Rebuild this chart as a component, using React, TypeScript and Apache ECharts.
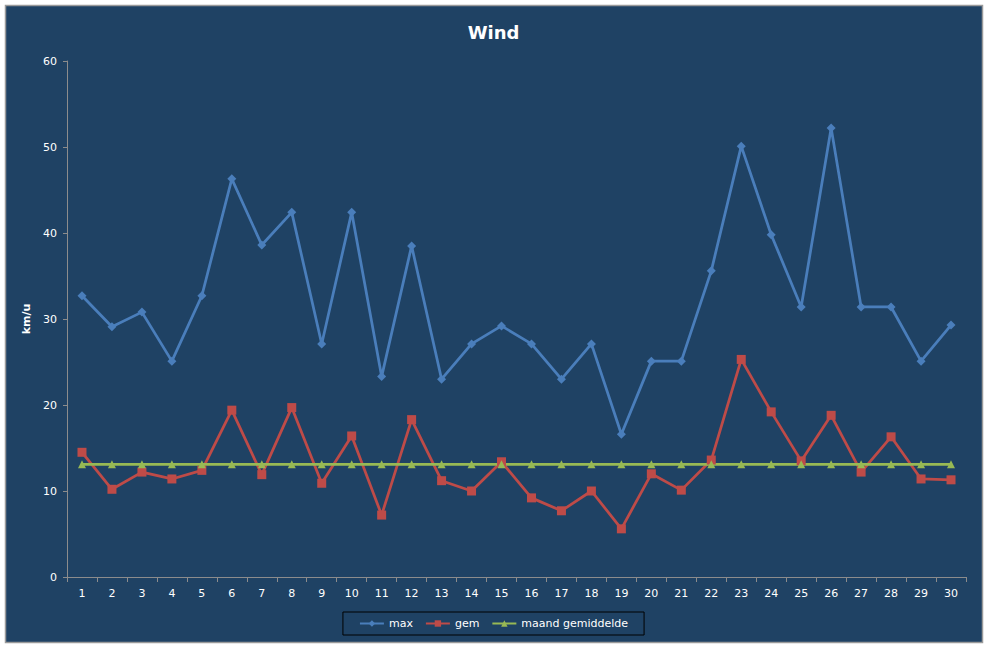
import React, { useEffect, useRef } from 'react';
import * as echarts from 'echarts';

const days = Array.from({ length: 30 }, (_, i) => String(i + 1));

const maxWind = [
  32.7, 29.1, 30.8, 25.1, 32.7, 46.3, 38.6, 42.4, 27.1, 42.4,
  23.3, 38.5, 23.0, 27.1, 29.2, 27.1, 23.0, 27.1, 16.6, 25.1,
  25.1, 35.6, 50.1, 39.8, 31.4, 52.2, 31.4, 31.4, 25.1, 29.3,
];

const gemWind = [
  14.5, 10.2, 12.2, 11.4, 12.4, 19.4, 11.9, 19.7, 10.9, 16.4,
  7.2, 18.3, 11.2, 10.0, 13.4, 9.2, 7.7, 10.0, 5.6, 12.0,
  10.1, 13.6, 25.3, 19.2, 13.5, 18.8, 12.2, 16.3, 11.4, 11.3,
];

const maandGemiddelde = days.map(() => 13.1);

const BG = '#1F4264';
const AXIS = '#8C8C8C';
const FONT = '"DejaVu Sans", Verdana, sans-serif';

const App: React.FC = () => {
  const chartRef = useRef<HTMLDivElement>(null);

  useEffect(() => {
    if (!chartRef.current) return;
    const chart = echarts.init(chartRef.current, undefined, { renderer: 'svg' });

    chart.setOption({
      animation: false,
      backgroundColor: '#ffffff',
      textStyle: { fontFamily: FONT },
      graphic: [
        {
          type: 'rect',
          z: -10,
          shape: { x: 5.5, y: 5.5, width: 977, height: 637 },
          style: { fill: BG, stroke: '#9A9A9A', lineWidth: 1.5 },
        },
      ],
      title: {
        text: 'Wind',
        left: 'center',
        top: 18,
        textStyle: { color: '#ffffff', fontSize: 18, fontWeight: 'bold', fontFamily: FONT },
      },
      legend: {
        data: ['max', 'gem', 'maand gemiddelde'],
        left: 'center',
        top: 612,
        padding: [6, 16, 6, 16],
        itemGap: 12,
        itemWidth: 24,
        itemHeight: 8,
        borderColor: '#000000',
        borderWidth: 1,
        textStyle: { color: '#ffffff', fontSize: 11, fontFamily: FONT },
      },
      grid: { left: 67, right: 21, top: 61, bottom: 71, containLabel: false },
      xAxis: {
        type: 'category',
        data: days,
        boundaryGap: true,
        axisLine: { lineStyle: { color: AXIS, width: 1 } },
        axisTick: { show: true, length: 5, lineStyle: { color: AXIS } },
        axisLabel: { color: '#ffffff', fontSize: 11, margin: 11, interval: 0, fontFamily: FONT },
        splitLine: { show: false },
      },
      yAxis: {
        type: 'value',
        min: 0,
        max: 60,
        interval: 10,
        name: 'km/u',
        nameLocation: 'middle',
        nameGap: 29,
        nameRotate: 90,
        nameTextStyle: { color: '#ffffff', fontSize: 11, fontWeight: 'bold', fontFamily: FONT },
        axisLine: { show: true, lineStyle: { color: AXIS, width: 1 } },
        axisTick: { show: true, length: 4, lineStyle: { color: AXIS } },
        axisLabel: { color: '#ffffff', fontSize: 11, margin: 10, fontFamily: FONT },
        splitLine: { show: false },
      },
      series: [
        {
          name: 'max',
          type: 'line',
          data: maxWind,
          symbol: 'diamond',
          symbolSize: 9,
          lineStyle: { color: '#4A7EBB', width: 2.75 },
          itemStyle: { color: '#4A7EBB' },
        },
        {
          name: 'gem',
          type: 'line',
          data: gemWind,
          symbol: 'rect',
          symbolSize: 9,
          lineStyle: { color: '#BE4B48', width: 2.75 },
          itemStyle: { color: '#BE4B48' },
        },
        {
          name: 'maand gemiddelde',
          type: 'line',
          data: maandGemiddelde,
          symbol: 'triangle',
          symbolSize: 8,
          lineStyle: { color: '#98B954', width: 2.75 },
          itemStyle: { color: '#98B954' },
        },
      ],
    });

    return () => {
      chart.dispose();
    };
  }, []);

  return (
    <div style={{ position: 'fixed', left: 0, top: 0, width: 987, height: 648 }}>
      <div ref={chartRef} style={{ width: 987, height: 648 }} />
    </div>
  );
};

export default App;
